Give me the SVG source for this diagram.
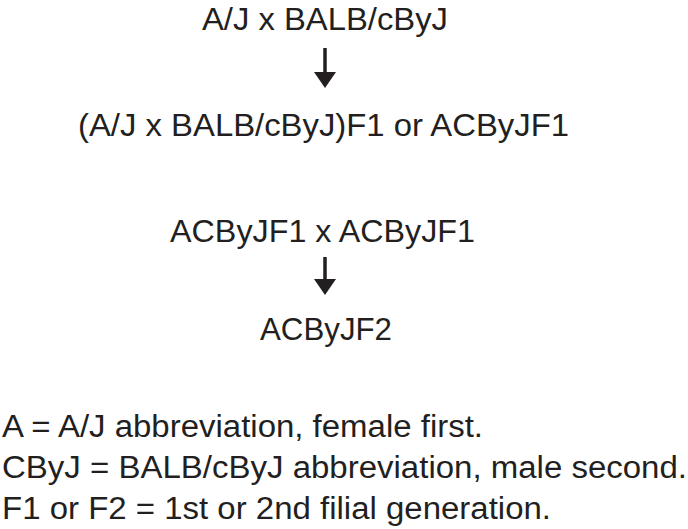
<svg xmlns="http://www.w3.org/2000/svg" width="688" height="529" viewBox="0 0 688 529">
<style>
text{font-family:"Liberation Sans",Arial,sans-serif;font-size:31px;fill:#231f20}
.arrow{stroke:#231f20;stroke-width:3.5;fill:none}
.head{fill:#231f20}
</style>
<rect width="688" height="529" fill="#ffffff"/>
<g id="node-cross1"><text x="202" y="30" textLength="246" lengthAdjust="spacingAndGlyphs">A/J x BALB/cByJ</text></g>
<g id="node-f1"><text x="78" y="136" textLength="491" lengthAdjust="spacingAndGlyphs">(A/J x BALB/cByJ)F1 or ACByJF1</text></g>
<g id="node-cross2"><text x="170" y="242" textLength="305" lengthAdjust="spacingAndGlyphs">ACByJF1 x ACByJF1</text></g>
<g id="node-f2"><text x="260" y="340" textLength="132" lengthAdjust="spacingAndGlyphs">ACByJF2</text></g>
<g id="connectors">
<line class="arrow" x1="325" y1="48" x2="325" y2="74"/>
<polygon class="head" points="314,72 336,72 325,88"/>
<line class="arrow" x1="325" y1="257" x2="325" y2="281"/>
<polygon class="head" points="314,279 336,279 325,295"/>
</g>
<g id="legend">
<text x="2" y="437" textLength="481" lengthAdjust="spacingAndGlyphs">A = A/J abbreviation, female first.</text>
<text x="2" y="478" textLength="685" lengthAdjust="spacingAndGlyphs">CByJ = BALB/cByJ abbreviation, male second.</text>
<text x="2" y="519" textLength="549" lengthAdjust="spacingAndGlyphs">F1 or F2 = 1st or 2nd filial generation.</text>
</g>
</svg>
